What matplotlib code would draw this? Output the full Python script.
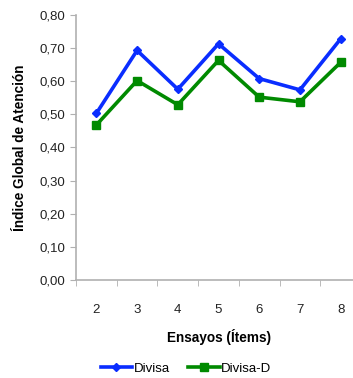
import matplotlib
matplotlib.use("Agg")
import matplotlib.pyplot as plt
from matplotlib.ticker import FixedLocator

plt.rcParams['font.family'] = ['Liberation Sans', 'DejaVu Sans']

# Datos
ensayos = [2, 3, 4, 5, 6, 7, 8]
divisa = [0.503, 0.693, 0.576, 0.713, 0.608, 0.574, 0.728]
divisa_d = [0.468, 0.602, 0.529, 0.663, 0.552, 0.538, 0.657]
yticks = [0.0, 0.1, 0.2, 0.3, 0.4, 0.5, 0.6, 0.7, 0.8]

fig = plt.figure(figsize=(3.53, 3.78), dpi=100)
ax = fig.add_axes([0.2153, 0.2593, 0.8074, 0.7010])

ax.plot(ensayos, divisa, color='#0a2dff', lw=2.6, marker='D', ms=4.5, label='Divisa')
ax.plot(ensayos, divisa_d, color='#008a00', lw=2.6, marker='s', ms=6, label='Divisa-D')

ax.set_xlim(1.5, 8.5)
ax.set_ylim(0, 0.8)
ax.set_yticks(yticks)
ax.set_yticklabels([f"{v:.2f}".replace('.', ',') for v in yticks], fontsize=9.5, color='#222222')
ax.set_xticks(ensayos)
ax.set_xticklabels([str(e) for e in ensayos], fontsize=9.5, color='#222222')
ax.xaxis.set_minor_locator(FixedLocator([e - 0.5 for e in ensayos] + [8.5]))
ax.tick_params(axis='x', which='major', length=0, pad=17)
ax.tick_params(axis='x', which='minor', length=4, color='#b0b0b0')
ax.tick_params(axis='y', length=4, color='#b0b0b0', pad=4)

for s in ['top', 'right']:
    ax.spines[s].set_visible(False)
for s in ['left', 'bottom']:
    ax.spines[s].set_color('#b0b0b0')
    ax.spines[s].set_linewidth(1.2)

ax.set_ylabel('Índice Global de Atención', fontsize=9.8, fontweight='bold', labelpad=9)
ax.set_xlabel('Ensayos (Ítems)', fontsize=9.8, fontweight='bold', labelpad=10)

fig.legend(loc='center', bbox_to_anchor=(0.527, 0.025), ncol=2, frameon=False,
           fontsize=9.5, handlelength=2.4, handletextpad=0.1, columnspacing=1.4)

fig.savefig('out.png', dpi=100)
